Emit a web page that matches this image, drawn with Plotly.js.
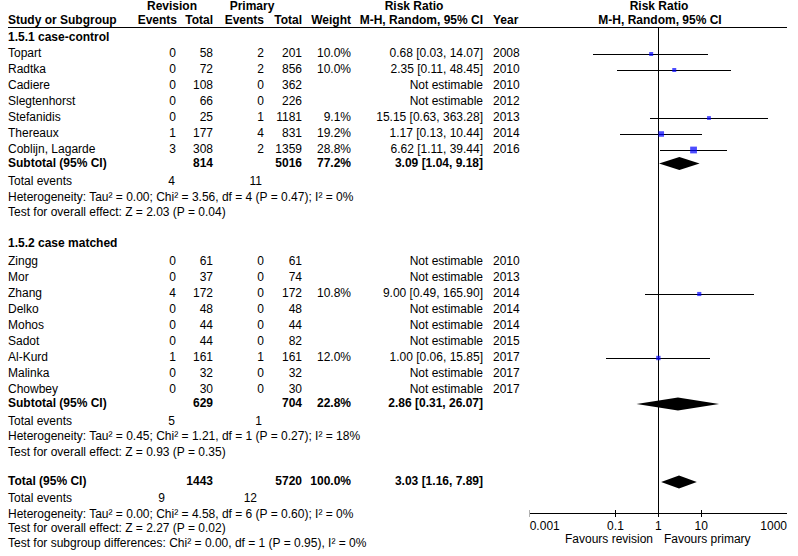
<!DOCTYPE html>
<html><head><meta charset="utf-8">
<script src="https://cdn.plot.ly/plotly-3.0.1.min.js"></script>
<style>body{margin:0;background:#fff}#chart{width:798px;height:556px}
path.js-line{shape-rendering:crispEdges}</style>
</head><body><div id="chart"></div>
<script>
// ---------------- data ----------------
const g1Name = "1.5.1 case-control";
const g1Studies = ["Topart","Radtka","Cadiere","Slegtenhorst","Stefanidis","Thereaux","Coblijn, Lagarde"];
const g1RevEvents = [0,0,0,0,0,1,3];
const g1RevTotal = [58,72,108,66,25,177,308];
const g1PriEvents = [2,2,0,0,1,4,2];
const g1PriTotal = [201,856,362,226,1181,831,1359];
const g1Weight = [10.0,10.0,null,null,9.1,19.2,28.8];
const g1RR = [0.68,2.35,null,null,15.15,1.17,6.62];
const g1Lo = [0.03,0.11,null,null,0.63,0.13,1.11];
const g1Hi = [14.07,48.45,null,null,363.28,10.44,39.44];
const g1Year = [2008,2010,2010,2012,2013,2014,2016];

const g2Name = "1.5.2 case matched";
const g2Studies = ["Zingg","Mor","Zhang","Delko","Mohos","Sadot","Al-Kurd","Malinka","Chowbey"];
const g2RevEvents = [0,0,4,0,0,0,1,0,0];
const g2RevTotal = [61,37,172,48,44,44,161,32,30];
const g2PriEvents = [0,0,0,0,0,0,1,0,0];
const g2PriTotal = [61,74,172,48,44,82,161,32,30];
const g2Weight = [null,null,10.8,null,null,null,12.0,null,null];
const g2RR = [null,null,9.00,null,null,null,1.00,null,null];
const g2Lo = [null,null,0.49,null,null,null,0.06,null,null];
const g2Hi = [null,null,165.90,null,null,null,15.85,null,null];
const g2Year = [2010,2013,2014,2014,2014,2015,2017,2017,2017];

const subRevTotal = [814,629];
const subPriTotal = [5016,704];
const subWeight = [77.2,22.8];
const subRR = [3.09,2.86];
const subLo = [1.04,0.31];
const subHi = [9.18,26.07];
const subRevEvents = [4,5];
const subPriEvents = [11,1];
const subHet = ["Heterogeneity: Tau² = 0.00; Chi² = 3.56, df = 4 (P = 0.47); I² = 0%",
                "Heterogeneity: Tau² = 0.45; Chi² = 1.21, df = 1 (P = 0.27); I² = 18%"];
const subTest = ["Test for overall effect: Z = 2.03 (P = 0.04)",
                 "Test for overall effect: Z = 0.93 (P = 0.35)"];

const totRevTotal = 1443, totPriTotal = 5720, totWeight = 100.0;
const totRR = 3.03, totLo = 1.16, totHi = 7.89;
const totRevEvents = 9, totPriEvents = 12;
const totHet = "Heterogeneity: Tau² = 0.00; Chi² = 4.58, df = 6 (P = 0.60); I² = 0%";
const totTest = "Test for overall effect: Z = 2.27 (P = 0.02)";
const subgroupTest = "Test for subgroup differences: Chi² = 0.00, df = 1 (P = 0.95), I² = 0%";

const tickVals = [0.001,0.1,1,10,1000];
const tickText = ["0.001","0.1","1","10","1000"];
const favLeft = "Favours revision", favRight = "Favours primary";

// ---------------- layout constants ----------------
const W = 798, H = 556;
const COL = {name:8, revEv:176, revTot:213, priEv:264, priTot:302, weight:351, ci:483, year:493};
const Y = {h1:6.5, h2:21, g1:38, g1First:54, pitch:16, sub1:163.5, te1:182, het1:198, test1:213,
           g2:244, g2First:262, sub2:404, te2:421.5, het2:437, test2:453,
           tot:482, te3:499, het3:514.5, test3:529, sg:544, axis:513, lineTop:27, tickLbl:527, fav:540};
const FONT = {family:"Liberation Sans, Arial, sans-serif", size:12, color:"#000"};

const fmt2 = v => v.toFixed(2);
const ciText = (r,l,h) => fmt2(r)+" ["+fmt2(l)+", "+fmt2(h)+"]";

const L = {x:[],y:[],t:[]}, R = {x:[],y:[],t:[]}, C = {x:[],y:[],t:[]};
const add = (o,x,y,t) => {o.x.push(x); o.y.push(y); o.t.push(t);};

// headers
add(C,172,Y.h1,"<b>Revision</b>");
add(C,252,Y.h1,"<b>Primary</b>");
add(C,414,Y.h1,"<b>Risk Ratio</b>");
add(C,659,Y.h1,"<b>Risk Ratio</b>");
add(L,COL.name,Y.h2,"<b>Study or Subgroup</b>");
add(R,COL.revEv+1,Y.h2,"<b>Events</b>");
add(R,COL.revTot,Y.h2,"<b>Total</b>");
add(R,COL.priEv,Y.h2,"<b>Events</b>");
add(R,COL.priTot,Y.h2,"<b>Total</b>");
add(R,COL.weight,Y.h2,"<b>Weight</b>");
add(R,COL.ci,Y.h2,"<b>M-H, Random, 95% CI</b>");
add(L,COL.year,Y.h2,"<b>Year</b>");
add(C,660,Y.h2,"<b>M-H, Random, 95% CI</b>");

const studyY = [];
function addGroup(name, gy, firstY, studies, re, rt, pe, pt, w, rr, lo, hi, yr){
  add(L,COL.name,gy,"<b>"+name+"</b>");
  studies.forEach((s,i)=>{
    const y = firstY + i*Y.pitch;
    add(L,COL.name,y,s);
    add(R,COL.revEv,y,String(re[i]));
    add(R,COL.revTot,y,String(rt[i]));
    add(R,COL.priEv,y,String(pe[i]));
    add(R,COL.priTot,y,String(pt[i]));
    if (w[i]!==null) add(R,COL.weight,y,w[i].toFixed(1)+"%");
    add(R,COL.ci,y, rr[i]!==null ? ciText(rr[i],lo[i],hi[i]) : "Not estimable");
    add(L,COL.year,y,String(yr[i]));
    studyY.push({y:y, rr:rr[i], lo:lo[i], hi:hi[i], w:w[i]});
  });
}
addGroup(g1Name,Y.g1,Y.g1First,g1Studies,g1RevEvents,g1RevTotal,g1PriEvents,g1PriTotal,g1Weight,g1RR,g1Lo,g1Hi,g1Year);
addGroup(g2Name,Y.g2,Y.g2First,g2Studies,g2RevEvents,g2RevTotal,g2PriEvents,g2PriTotal,g2Weight,g2RR,g2Lo,g2Hi,g2Year);

const subY = [Y.sub1,Y.sub2], teY=[Y.te1,Y.te2], hetY=[Y.het1,Y.het2], testY=[Y.test1,Y.test2];
for (let k=0;k<2;k++){
  add(L,COL.name,subY[k],"<b>Subtotal (95% CI)</b>");
  add(R,COL.revTot,subY[k],"<b>"+subRevTotal[k]+"</b>");
  add(R,COL.priTot,subY[k],"<b>"+subPriTotal[k]+"</b>");
  add(R,COL.weight,subY[k],"<b>"+subWeight[k].toFixed(1)+"%</b>");
  add(R,COL.ci,subY[k],"<b>"+ciText(subRR[k],subLo[k],subHi[k])+"</b>");
  add(L,COL.name,teY[k],"Total events");
  add(R,COL.revEv-1,teY[k],String(subRevEvents[k]));
  add(R,COL.priEv-2,teY[k],String(subPriEvents[k]));
  add(L,COL.name,hetY[k],subHet[k]);
  add(L,COL.name,testY[k],subTest[k]);
}
add(L,COL.name,Y.tot,"<b>Total (95% CI)</b>");
add(R,COL.revTot,Y.tot,"<b>"+totRevTotal+"</b>");
add(R,COL.priTot,Y.tot,"<b>"+totPriTotal+"</b>");
add(R,COL.weight,Y.tot,"<b>"+totWeight.toFixed(1)+"%</b>");
add(R,COL.ci,Y.tot,"<b>"+ciText(totRR,totLo,totHi)+"</b>");
add(L,COL.name,Y.te3,"Total events");
add(R,165,Y.te3,String(totRevEvents));
add(R,257,Y.te3,String(totPriEvents));
add(L,COL.name,Y.het3,totHet);
add(L,COL.name,Y.test3,totTest);
add(L,COL.name,Y.sg,subgroupTest);

const textTrace = (o,pos) => ({type:"scatter",mode:"text",x:o.x,y:o.y,text:o.t,textposition:pos,
  textfont:FONT,xaxis:"x",yaxis:"y",hoverinfo:"skip",showlegend:false,cliponaxis:false});

const traces = [textTrace(L,"middle right"),textTrace(R,"middle left"),textTrace(C,"middle center")];

// header rule
traces.push({type:"scatter",mode:"lines",x:[COL.name,787],y:[Y.lineTop,Y.lineTop],
  line:{color:"#000",width:1},xaxis:"x",yaxis:"y",hoverinfo:"skip",showlegend:false,cliponaxis:false});

// forest: vertical no-effect line
traces.push({type:"scatter",mode:"lines",x:[1,1],y:[Y.lineTop,Y.axis],line:{color:"#000",width:1},
  xaxis:"x2",yaxis:"y",hoverinfo:"skip",showlegend:false,cliponaxis:false});

// CI lines and study markers
const ciX=[], ciY=[], mX=[], mY=[], mS=[];
studyY.forEach(s=>{
  if (s.rr===null) return;
  ciX.push(s.lo,s.hi,null); ciY.push(s.y,s.y,null);
  mX.push(s.rr); mY.push(s.y); mS.push(4*Math.sqrt(s.w/10));
});
traces.push({type:"scatter",mode:"lines",x:ciX,y:ciY,line:{color:"#000",width:1},
  xaxis:"x2",yaxis:"y",hoverinfo:"skip",showlegend:false,cliponaxis:false});
traces.push({type:"scatter",mode:"markers",x:mX,y:mY,marker:{symbol:"square",color:"#0000ff",size:mS,line:{width:0}},
  xaxis:"x2",yaxis:"y",hoverinfo:"skip",showlegend:false,cliponaxis:false});

// diamonds
const dh = 6.5;
const diamond = (r,l,h,y) => ({type:"scatter",mode:"lines",fill:"toself",fillcolor:"#000",
  x:[l,r,h,r,l],y:[y,y-dh,y,y+dh,y],line:{color:"#000",width:0},xaxis:"x2",yaxis:"y",hoverinfo:"skip",showlegend:false,cliponaxis:false});
for (let k=0;k<2;k++) traces.push(diamond(subRR[k],subLo[k],subHi[k],subY[k]));
traces.push(diamond(totRR,totLo,totHi,Y.tot));

// bottom axis line, ticks, labels
traces.push({type:"scatter",mode:"lines",x:[tickVals[0],tickVals[tickVals.length-1]],y:[Y.axis,Y.axis],
  line:{color:"#000",width:1},xaxis:"x2",yaxis:"y",hoverinfo:"skip",showlegend:false,cliponaxis:false});
const tX=[], tY=[];
tickVals.forEach(v=>{tX.push(v,v,null); tY.push(Y.axis-3.5,Y.axis+3.5,null);});
traces.push({type:"scatter",mode:"lines",x:tX,y:tY,line:{color:"#000",width:1},
  xaxis:"x2",yaxis:"y",hoverinfo:"skip",showlegend:false,cliponaxis:false});
const last = tickVals.length-1;
traces.push({type:"scatter",mode:"text",x:tickVals,y:tickVals.map(()=>Y.tickLbl),text:tickText,
  textposition:tickVals.map((v,i)=> i===0 ? "middle right" : (i===last ? "middle left" : "middle center")),
  textfont:FONT,xaxis:"x2",yaxis:"y",hoverinfo:"skip",showlegend:false,cliponaxis:false});
traces.push({type:"scatter",mode:"text",x:[0.75,1.35],y:[Y.fav,Y.fav],text:[favLeft,favRight],
  textposition:["middle left","middle right"],textfont:FONT,xaxis:"x2",yaxis:"y",hoverinfo:"skip",showlegend:false,cliponaxis:false});

const layout = {
  width:W, height:H, margin:{l:0,r:0,t:0,b:0,pad:0},
  paper_bgcolor:"#fff", plot_bgcolor:"rgba(0,0,0,0)", showlegend:false,
  font:FONT,
  xaxis:{range:[0,W],domain:[0,1],visible:false,fixedrange:true},
  xaxis2:{type:"log",range:[-3,3],domain:[529.7/W,787/W],anchor:"y",visible:false,fixedrange:true},
  yaxis:{range:[H,0],domain:[0,1],visible:false,fixedrange:true}
};
Plotly.newPlot("chart",traces,layout,{staticPlot:true,displayModeBar:false});
</script></body></html>
